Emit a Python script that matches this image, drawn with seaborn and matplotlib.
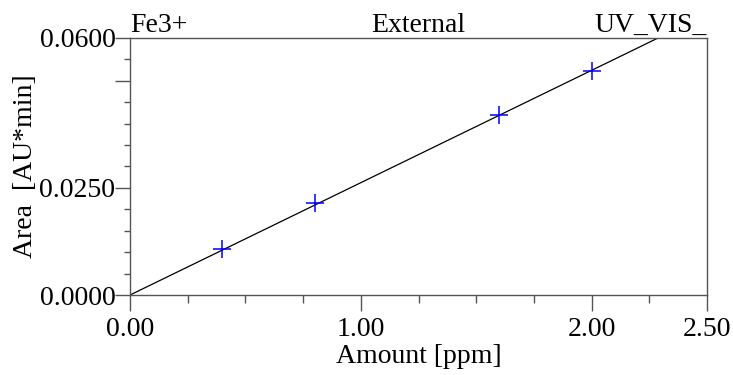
import numpy as np
import pandas as pd
import matplotlib
matplotlib.use("Agg")
import matplotlib.pyplot as plt
import seaborn as sns
from matplotlib.ticker import FixedLocator, MultipleLocator

# Datos de calibración
amount = [0.4, 0.8, 1.6, 2.0]
area = [0.0107, 0.0214, 0.0420, 0.0522]

x_ticks = [0.0, 1.0, 2.0, 2.5]
x_labels = ["0.00", "1.00", "2.00", "2.50"]
y_ticks = [0.0, 0.025, 0.05, 0.06]
y_labels = ["0.0000", "0.0250", "", "0.0600"]

title_left = "Fe3+"
title_mid = "External"
title_right = "UV_VIS_"

# Ajuste lineal por el origen
slope = np.sum(np.array(amount) * np.array(area)) / np.sum(np.array(amount) ** 2)
df = pd.DataFrame({"amount": amount, "area": area})
x_fit = np.linspace(0, 2.5, 50)
df_fit = pd.DataFrame({"amount": x_fit, "area": slope * x_fit})

sns.set_style("white")
plt.rcParams["font.family"] = ["Liberation Serif", "DejaVu Serif"]
plt.rcParams["text.color"] = "black"
plt.rcParams["axes.labelcolor"] = "black"
plt.rcParams["xtick.labelcolor"] = "black"
plt.rcParams["ytick.labelcolor"] = "black"
fs = 20

fig = plt.figure(figsize=(7.33, 3.75), dpi=100)
ax = fig.add_axes([0.1774, 0.2133, 0.7871, 0.6854])

sns.lineplot(data=df_fit, x="amount", y="area", color="black", linewidth=0.9, ax=ax)
sns.scatterplot(data=df, x="amount", y="area", marker="+", color="#0000ff",
                s=160, linewidth=1.1, ax=ax, zorder=3)

ax.set_xlim(0, 2.5)
ax.set_ylim(0, 0.06)

ax.xaxis.set_major_locator(FixedLocator(x_ticks))
ax.set_xticklabels(x_labels)
ax.xaxis.set_minor_locator(MultipleLocator(0.25))
ax.yaxis.set_major_locator(FixedLocator(y_ticks))
ax.set_yticklabels(y_labels)
ax.yaxis.set_minor_locator(MultipleLocator(0.005))

spine_col = "#555555"
for s in ax.spines.values():
    s.set_color(spine_col)
    s.set_linewidth(1.0)

ax.tick_params(axis="x", which="major", bottom=True, direction="out", length=11.5,
               width=1, color=spine_col, labelsize=fs, pad=4, labelcolor="black")
ax.tick_params(axis="x", which="minor", bottom=True, direction="out", length=5.8,
               width=1, color=spine_col)
ax.tick_params(axis="y", which="major", left=True, direction="out", length=10.5,
               width=1, color=spine_col, labelsize=fs, pad=0, labelcolor="black")
ax.tick_params(axis="y", which="minor", left=True, direction="out", length=4.3,
               width=1, color=spine_col)

ax.set_xlabel("Amount [ppm]", fontsize=fs, labelpad=2, color="black")
ax.set_ylabel("Area  [AU*min]", fontsize=fs, labelpad=1, color="black")

ax.set_title(title_left, loc="left", fontsize=fs, pad=0, color="black")
ax.set_title(title_mid, loc="center", fontsize=fs, pad=0, color="black")
ax.set_title(title_right, loc="right", fontsize=fs, pad=0, color="black")

fig.savefig("out.png", dpi=100)
